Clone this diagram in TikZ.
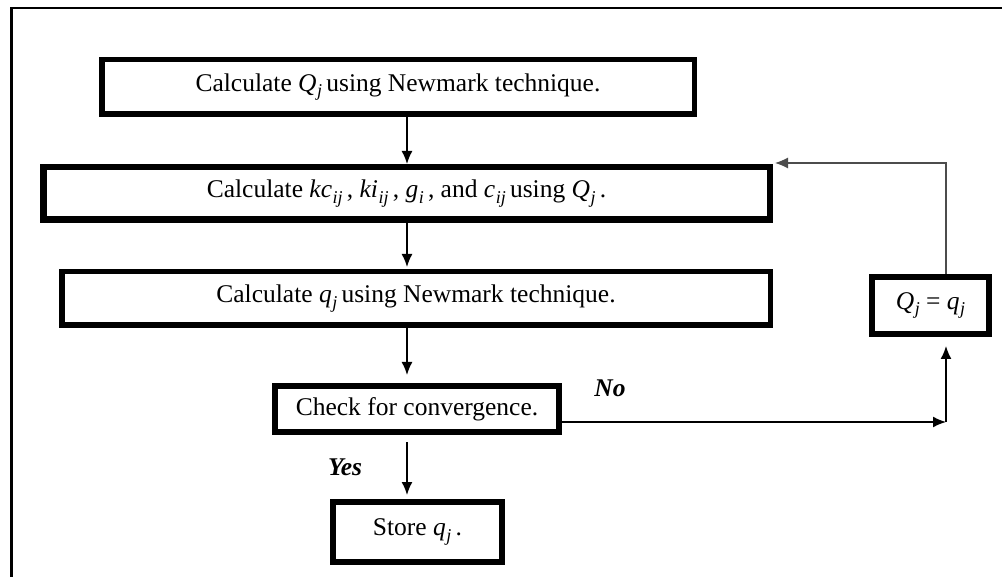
\documentclass[tikz,border=0pt]{standalone}
\usepackage{fontspec}
\setmainfont{Liberation Serif}
\usetikzlibrary{arrows.meta,calc}
\newcommand\mv[2]{\textit{#1}\kern0.5pt\raisebox{-5.5pt}{\fontsize{18}{18}\selectfont\textit{#2}}}
\begin{document}
\begin{tikzpicture}[x=1pt,y=-1pt,
  box/.style={draw=black,line width=5.5pt,fill=white,inner sep=0pt,align=center,
    font=\fontsize{25.5}{29}\selectfont},
  arr/.style={line width=1.6pt,-{Latex[length=13pt,width=11pt]}},
  thinarr/.style={line width=1.1pt,draw=black!70,-{Latex[length=13pt,width=11pt]}},
  lbl/.style={font=\fontsize{25.5}{29}\selectfont\bfseries\itshape}]
\useasboundingbox (0,0) rectangle (1002,577);
\fill[white] (0,0) rectangle (1002,577);
\draw[line width=2.2pt] (11.5,577) -- (11.5,8) -- (1002,8);

\node[box,minimum width=592.5pt,minimum height=54.5pt] (b1) at (398,87) {Calculate \mv{Q}{j}\,using Newmark technique.};
\node[box,line width=6.5pt,minimum width=726.5pt,minimum height=52.5pt] (b2) at (406.5,193.5) {Calculate \mv{kc}{ij}\,, \mv{ki}{ij}\,, \mv{g}{i}\,, and \mv{c}{ij}\,using \mv{Q}{j}\,.};
\node[box,minimum width=708.5pt,minimum height=53.5pt] (b3) at (416,298.5) {Calculate \mv{q}{j}\,using Newmark technique.};
\node[box,line width=6pt,minimum width=284pt,minimum height=46pt] (b4) at (417,409) {Check for convergence.};
\node[box,line width=6pt,minimum width=169pt,minimum height=60pt] (b5) at (417.5,532) {\raisebox{4pt}{Store \mv{q}{j}\,.}};
\node[box,line width=6pt,minimum width=117pt,minimum height=57pt] (b6) at (930.5,305.5) {\mv{Q}{j} = \mv{q}{j}};

\coordinate (cx) at (407,0);
\coordinate (rx) at (946,0);
\coordinate (turn) at (946,422);
\coordinate (top) at (946,163);

\draw[arr] (b1.south -| cx) -- (b2.north -| cx);
\draw[arr] (b2.south -| cx) -- ($(b3.north -| cx)+(0,-2)$);
\draw[arr] (b3.south -| cx) -- ($(b4.north -| cx)+(0,-8)$);
\draw[arr] ($(b4.south -| cx)+(0,7)$) -- ($(b5.north -| cx)+(0,-4)$);
\draw[arr] (b4.east |- turn) -- (turn);
\draw[arr] (turn) -- ($(b6.south -| rx)+(0,9)$);
\draw[thinarr] (b6.north -| rx) -- (top) -- ($(b2.north east)+(2,-1)$);

\node[lbl] (no) at (610,388) {No};
\node[lbl] (yes) at (345,467) {Yes};
\end{tikzpicture}
\end{document}
